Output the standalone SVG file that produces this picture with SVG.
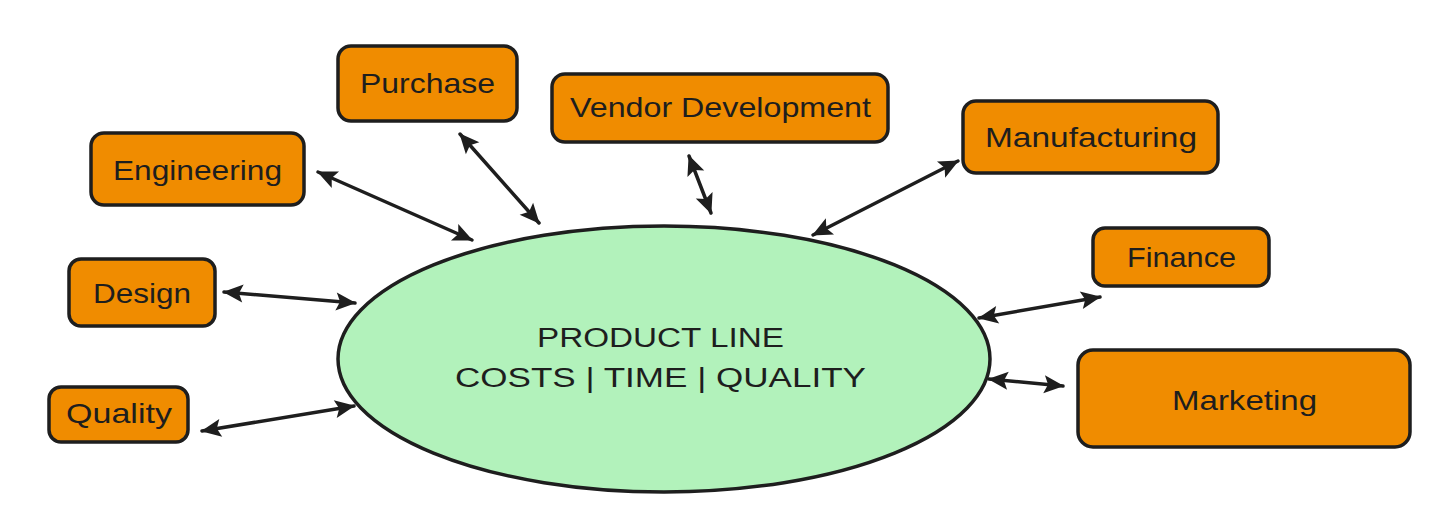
<svg xmlns="http://www.w3.org/2000/svg" width="1440" height="513" viewBox="0 0 1440 513">
  <style>
    .box { fill: #f08c00; stroke: #1e1e1e; stroke-width: 3.5; }
    .hub { fill: #b2f2bb; stroke: #1e1e1e; stroke-width: 3.5; }
    .lbl { font-family: "Liberation Sans", "DejaVu Sans", sans-serif; font-size: 28px; fill: #1e1e1e; text-anchor: start; dominant-baseline: central; }
    .hubt { font-family: "Liberation Sans", "DejaVu Sans", sans-serif; font-size: 27px; fill: #1e1e1e; dominant-baseline: central; }
    .conn { stroke: #1e1e1e; stroke-width: 3.5; fill: none; marker-start: url(#ah); marker-end: url(#ah); stroke-linecap: round; }
  </style>
  <defs>
    <marker id="ah" markerUnits="userSpaceOnUse" markerWidth="22" markerHeight="18" refX="19" refY="9" orient="auto-start-reverse" overflow="visible">
      <path d="M0,0 L20,9 L0,18 L4,9 z" fill="#1e1e1e"/>
    </marker>
  </defs>
  <rect width="1440" height="513" fill="#ffffff"/>

  <g id="connectors">
    <line class="conn" x1="318" y1="172" x2="472" y2="240"/>
    <line class="conn" x1="460" y1="134" x2="539" y2="223"/>
    <line class="conn" x1="689" y1="156" x2="711" y2="213"/>
    <line class="conn" x1="958" y1="161" x2="813" y2="235"/>
    <line class="conn" x1="1100" y1="297" x2="979" y2="318"/>
    <line class="conn" x1="1063" y1="386" x2="989" y2="379"/>
    <line class="conn" x1="224" y1="292" x2="355" y2="303"/>
    <line class="conn" x1="202" y1="431" x2="354" y2="406"/>
  </g>

  <g id="hub">
    <ellipse class="hub" cx="664" cy="359" rx="326" ry="133"/>
    <text class="hubt" x="537" y="338" textLength="247" lengthAdjust="spacingAndGlyphs">PRODUCT LINE</text>
    <text class="hubt" x="455" y="378" textLength="411" lengthAdjust="spacingAndGlyphs">COSTS | TIME | QUALITY</text>
  </g>

  <g id="purchase">
    <rect class="box" x="338" y="46" width="179" height="75" rx="13"/>
    <text class="lbl" x="360" y="83" textLength="135" lengthAdjust="spacingAndGlyphs">Purchase</text>
  </g>
  <g id="vendor-development">
    <rect class="box" x="552" y="74" width="336" height="68" rx="13"/>
    <text class="lbl" x="570" y="107" textLength="301" lengthAdjust="spacingAndGlyphs">Vendor Development</text>
  </g>
  <g id="manufacturing">
    <rect class="box" x="963" y="101" width="255" height="72" rx="13"/>
    <text class="lbl" x="985" y="137" textLength="212" lengthAdjust="spacingAndGlyphs">Manufacturing</text>
  </g>
  <g id="engineering">
    <rect class="box" x="91" y="133" width="213" height="72" rx="13"/>
    <text class="lbl" x="113" y="170" textLength="169" lengthAdjust="spacingAndGlyphs">Engineering</text>
  </g>
  <g id="finance">
    <rect class="box" x="1093" y="228" width="176" height="58" rx="12"/>
    <text class="lbl" x="1127" y="257" textLength="109" lengthAdjust="spacingAndGlyphs">Finance</text>
  </g>
  <g id="design">
    <rect class="box" x="69" y="259" width="146" height="67" rx="12"/>
    <text class="lbl" x="93" y="293" textLength="98" lengthAdjust="spacingAndGlyphs">Design</text>
  </g>
  <g id="quality">
    <rect class="box" x="49" y="387" width="139" height="55" rx="12"/>
    <text class="lbl" x="66" y="413" textLength="106" lengthAdjust="spacingAndGlyphs">Quality</text>
  </g>
  <g id="marketing">
    <rect class="box" x="1078" y="350" width="332" height="97" rx="15"/>
    <text class="lbl" x="1172" y="400" textLength="145" lengthAdjust="spacingAndGlyphs">Marketing</text>
  </g>
</svg>
